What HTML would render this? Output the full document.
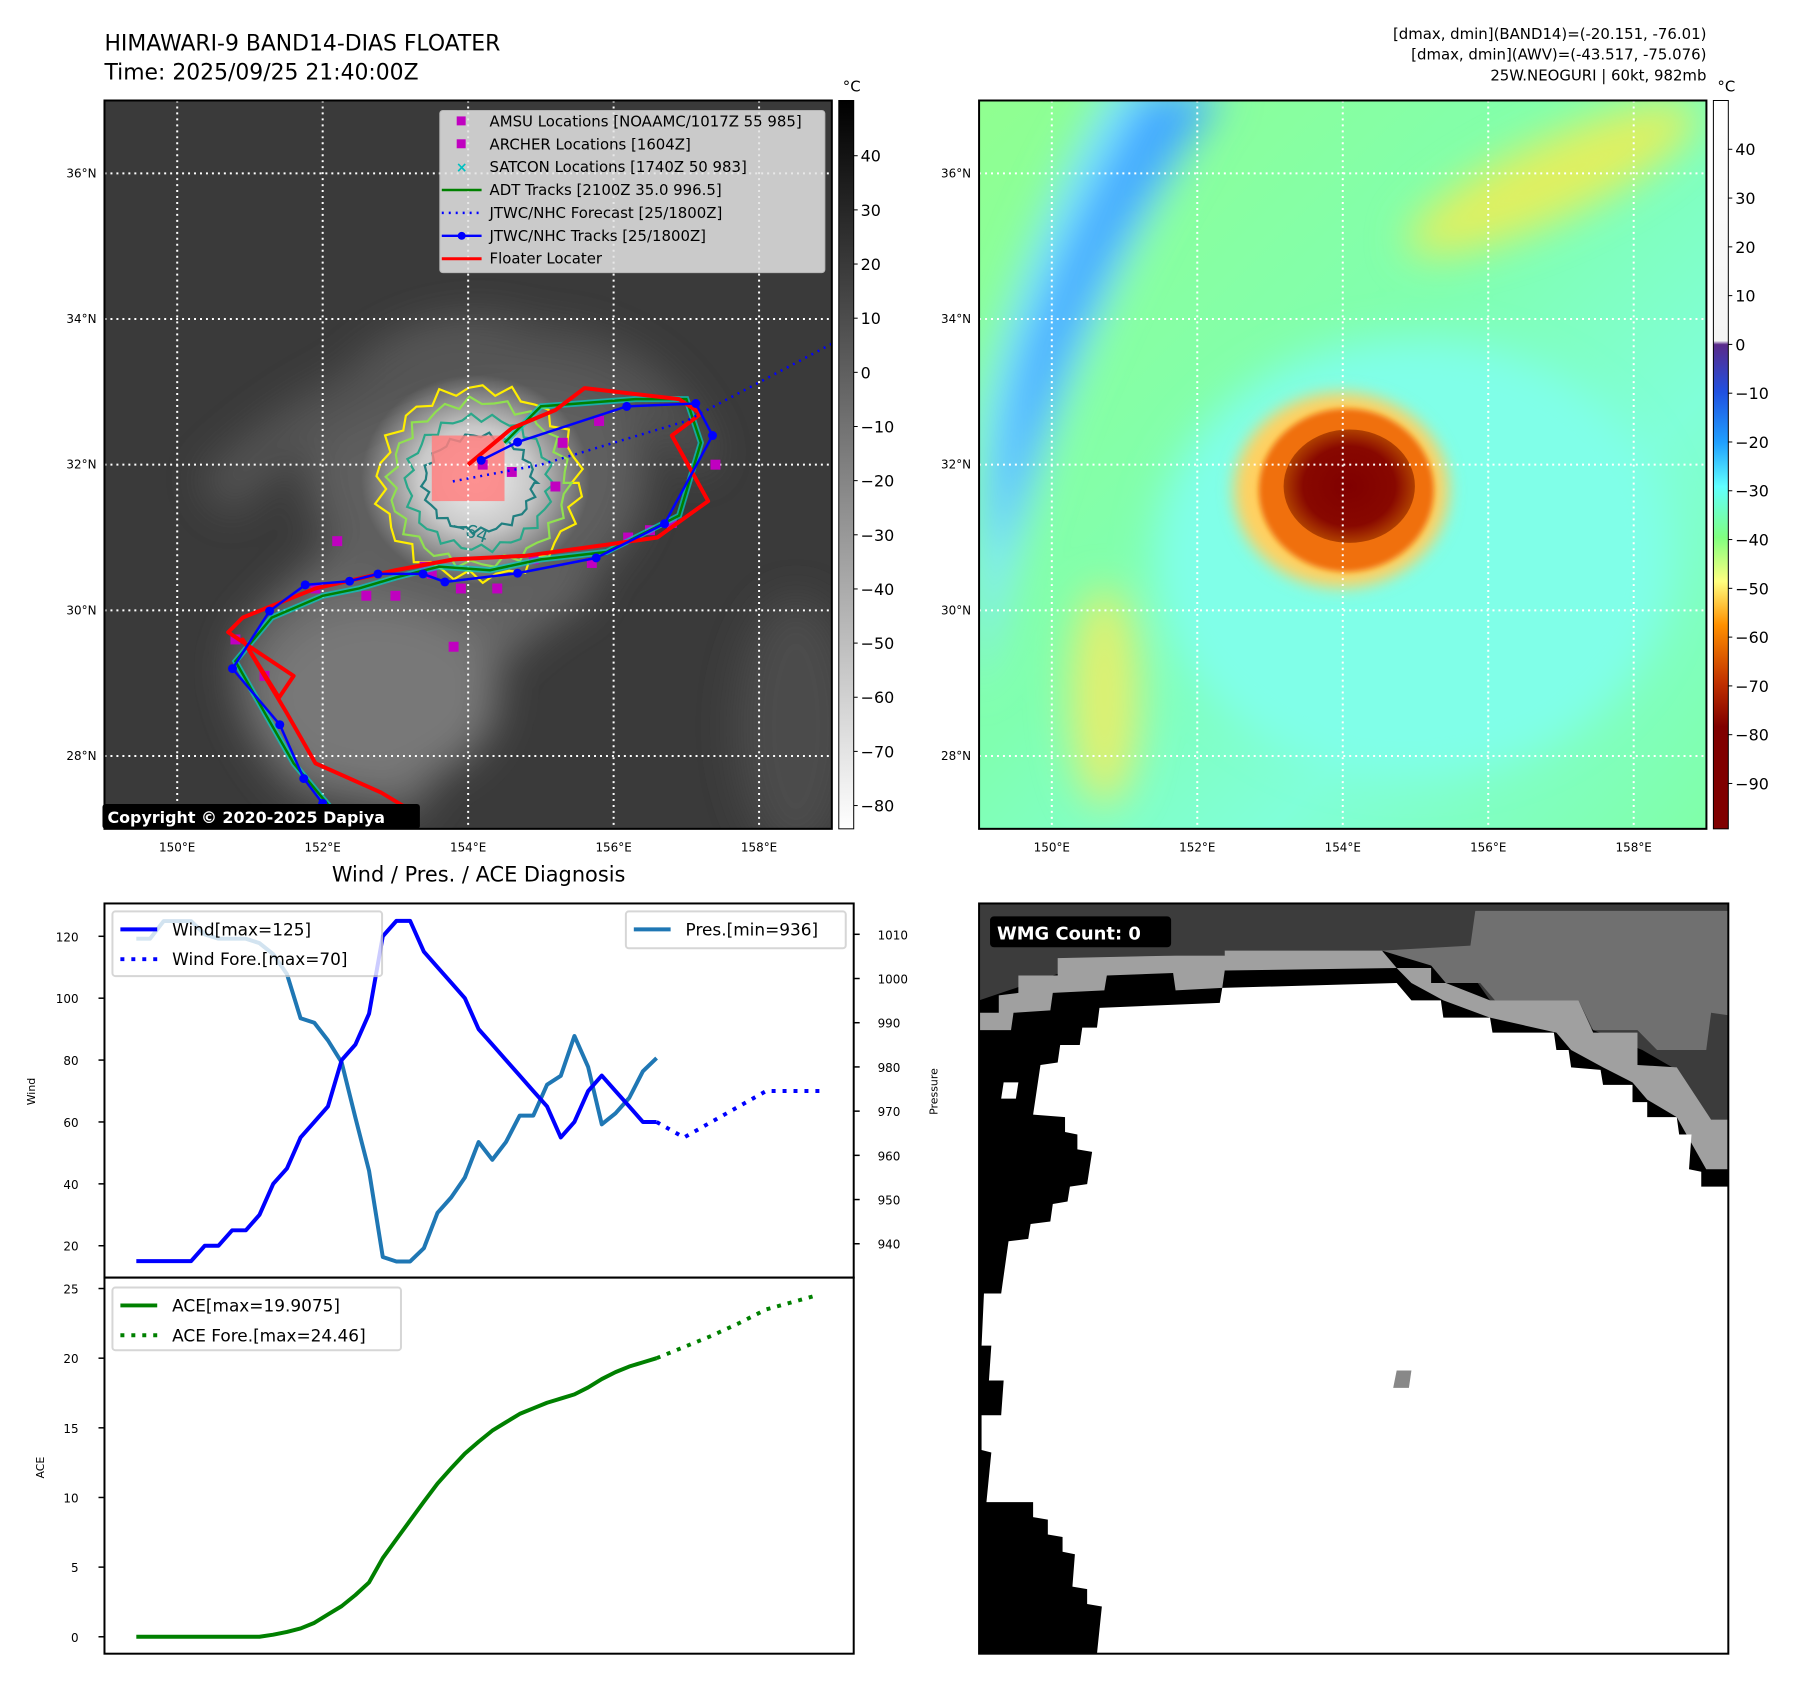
<!DOCTYPE html>
<html><head><meta charset="utf-8"><style>
html,body{margin:0;padding:0;background:#fff;}
svg{display:block;font-family:"DejaVu Sans","Liberation Sans",sans-serif;}
</style></head><body>
<svg id="fig" width="1797" height="1690" viewBox="0 0 1797 1690" xmlns="http://www.w3.org/2000/svg">
<defs>
<filter id="blur8" x="-50%" y="-50%" width="200%" height="200%"><feGaussianBlur stdDeviation="8"/></filter>
<filter id="blur20" x="-50%" y="-50%" width="200%" height="200%"><feGaussianBlur stdDeviation="20"/></filter>
<filter id="blur4" x="-50%" y="-50%" width="200%" height="200%"><feGaussianBlur stdDeviation="3"/></filter>
<clipPath id="clipL"><rect x="105" y="101" width="731" height="732"/></clipPath>
<clipPath id="clipR"><rect x="984" y="101" width="731" height="732"/></clipPath>
<clipPath id="clipW"><rect x="984" y="908" width="753" height="754"/></clipPath>
<linearGradient id="cbGray" x1="0" y1="0" x2="0" y2="1">
<stop offset="0" stop-color="#000"/><stop offset="1" stop-color="#fff"/></linearGradient>
<linearGradient id="cbColor" x1="0" y1="0" x2="0" y2="1">
<stop offset="0" stop-color="#ffffff"/><stop offset="0.33" stop-color="#f4f4f4"/>
<stop offset="0.335" stop-color="#5a2a8a"/><stop offset="0.40" stop-color="#2050e0"/>
<stop offset="0.47" stop-color="#20a0ff"/><stop offset="0.53" stop-color="#60ffff"/>
<stop offset="0.60" stop-color="#80ff80"/><stop offset="0.66" stop-color="#ffff80"/>
<stop offset="0.72" stop-color="#ff9000"/><stop offset="0.80" stop-color="#c03000"/>
<stop offset="0.86" stop-color="#800000"/><stop offset="1" stop-color="#800000"/></linearGradient>
<linearGradient id="bgR" x1="0" y1="0" x2="1" y2="1">
<stop offset="0" stop-color="#90ff90"/><stop offset="0.45" stop-color="#80ffb0"/>
<stop offset="0.7" stop-color="#80ffd8"/><stop offset="1" stop-color="#80ffa8"/></linearGradient>
<radialGradient id="eyeCore"><stop offset="0" stop-color="#800000"/><stop offset="0.7" stop-color="#880800"/><stop offset="1" stop-color="#b04000"/></radialGradient>
<radialGradient id="cloudW"><stop offset="0" stop-color="#f0f0f0"/><stop offset="0.5" stop-color="#c8c8c8"/><stop offset="1" stop-color="#c8c8c8" stop-opacity="0"/></radialGradient>
</defs>
<g id="root" transform="scale(0.995)">
<text x="105" y="51" font-size="22" fill="#000">HIMAWARI-9 BAND14-DIAS FLOATER</text>
<text x="105" y="80" font-size="22" fill="#000">Time: 2025/09/25 21:40:00Z</text>
<text x="1715" y="39" font-size="15" text-anchor="end">[dmax, dmin](BAND14)=(-20.151, -76.01)</text>
<text x="1715" y="60" font-size="15" text-anchor="end">[dmax, dmin](AWV)=(-43.517, -75.076)</text>
<text x="1715" y="81" font-size="15" text-anchor="end">25W.NEOGURI | 60kt, 982mb</text>

<g id="mapL"></g>
<g id="mapR"></g>
<g id="chart"></g>
<g id="wmg"></g>
</g>
</svg>
<script>
// ---------- data ----------
const windObs = [15,15,15,15,15,20,20,25,25,30,40,45,55,60,65,80,85,95,120,125,125,115,110,105,100,90,85,80,75,70,65,55,60,70,75,70,65,60,60];
const windForeIdx = [38,40,46,50];
const windFore = [60,55,70,70];
const presObs = [1009,1009,1013,1013,1013,1010,1009,1009,1009,1008,1005.5,1001,991,990,986,981,968.5,956.5,937,936,936,939,947,950.5,955,963,959,963,969,969,976,978,987,980,967,969.5,973,979,982];
const aceObs = [0,0,0,0,0,0,0,0,0,0,0.15,0.35,0.6,1.0,1.6,2.2,3.0,3.9,5.65,7.0,8.35,9.7,11.0,12.1,13.15,14.0,14.8,15.4,16.0,16.4,16.8,17.1,17.4,17.9,18.5,19.0,19.4,19.7,20.0];
const aceForeIdx = [38,40,42,44,46,49.5];
const aceFore = [20.0,20.8,21.6,22.5,23.5,24.46];
const windTicks = [20,40,60,80,100,120];
const presTicks = [940,950,960,970,980,990,1000,1010];
const aceTicks = [0,5,10,15,20,25];
const lonTicks = [150,152,154,156,158];
const latTicks = [28,30,32,34,36];
const cbGrayTicks = [40,30,20,10,0,-10,-20,-30,-40,-50,-60,-70,-80];
const cbColorTicks = [40,30,20,10,0,-10,-20,-30,-40,-50,-60,-70,-80,-90];
const jtwcLon = [152.0,151.74,151.41,150.76,151.27,151.76,152.37,152.76,153.38,153.68,154.68,155.76,156.70,157.36,157.13,156.18,154.68,154.18];
const jtwcLat = [27.35,27.69,28.43,29.20,29.99,30.35,30.40,30.50,30.50,30.39,30.51,30.72,31.19,32.40,32.84,32.80,32.31,32.06];
const foreLon = [153.79,155.0,157.0,159.0];
const foreLat = [31.77,32.0,32.6,33.66];
const adtLon = [152.1,151.6,151.2,150.8,151.3,152.0,152.5,153.0,153.6,154.3,155.0,155.9,156.9,157.2,157.0,156.3,155.0,154.5];
const adtLat = [27.3,27.9,28.6,29.3,29.9,30.2,30.3,30.45,30.6,30.55,30.7,30.8,31.3,32.3,32.9,32.9,32.8,32.3];
const floaterLon = [153.3,152.8,151.9,151.5,150.9,151.4,151.6,150.7,150.9,151.9,153.0,153.8,154.8,155.9,156.6,157.3,156.8,157.2,156.9,155.6,155.2,154.6,154.0];
const floaterLat = [27.2,27.5,27.9,28.6,29.6,28.8,29.1,29.7,29.9,30.3,30.55,30.7,30.75,30.9,31.0,31.5,32.4,32.7,32.9,33.05,32.75,32.5,32.0];
const amsuLon = [151.2,151.9,152.6,153.0,153.5,153.9,154.4,154.6,155.3,155.8,156.2,156.5,156.8,157.4,154.2,155.2,150.8,153.8,152.2,153.4,154.9,155.7];
const amsuLat = [29.1,30.3,30.2,30.2,30.5,30.3,30.3,31.9,32.3,32.6,31.0,31.1,31.2,32.0,32.0,31.7,29.6,29.5,30.95,30.6,30.7,30.65];

const NS = "http://www.w3.org/2000/svg";
function mk(parent, tag, attrs, text){
  const e = document.createElementNS(NS, tag);
  for (const k in attrs) e.setAttribute(k, attrs[k]);
  if (text !== undefined) e.textContent = text;
  parent.appendChild(e);
  return e;
}
function mapX(x0, lon){ return x0 + (lon - 149) * 73.1; }
function mapY(lat){ return 101 + (37 - lat) * 73.2; }
function cx(i){ return 137 + i * 13.76; }
function yw(v){ return 941 + (120 - v) * 3.11; }
function yp(p){ return 939 + (1010 - p) * 4.443; }
function ya(a){ return 1645 - a * 14; }

// ---------- Left IR map ----------
const L = document.getElementById('mapL');
const Lg = mk(L,'g',{'clip-path':'url(#clipL)'});
let e;
e = mk(Lg,'rect',{x:105,y:101,width:731,height:732,fill:'#3a3a3a'});


const cloudG = mk(Lg,'g',{filter:'url(#blur20)'});
e = mk(cloudG,'path',{d:'M560 420 C 430 480 300 560 240 640 C 220 700 260 760 300 800 L 420 820 C 460 700 520 640 600 600 C 560 560 560 480 560 420 Z',fill:'#686868'});


e = mk(cloudG,'ellipse',{cx:480,cy:470,rx:170,ry:150,fill:'#5e5e5e'});


e = mk(cloudG,'path',{d:'M200 480 C 300 380 420 330 560 330 C 650 340 700 400 720 460 L 700 480 C 660 420 600 380 520 380 C 400 390 300 450 230 520 Z',fill:'#525252'});


e = mk(cloudG,'ellipse',{cx:380,cy:700,rx:120,ry:90,fill:'#787878'});


e = mk(cloudG,'ellipse',{cx:800,cy:730,rx:60,ry:130,fill:'#4c4c4c'});


e = mk(Lg,'ellipse',{cx:mapX(105,154.1),cy:mapY(31.8),rx:115,ry:105,fill:'url(#cloudW)'});


const contours = [['#ffee00',100,95],['#90e050',88,82],['#2aa88a',72,66],['#207f80',55,48]];
contours.forEach((c,k)=>{
  const ccx = mapX(105,154.15), ccy = mapY(31.75);
  let d='';
  for(let a=0;a<=360;a+=8){
    const r = 1 + 0.07*Math.sin(a*0.31+k);
    const px = ccx + c[1]*r*Math.cos(a*Math.PI/180), py = ccy + c[2]*r*Math.sin(a*Math.PI/180);
    d += (a===0?'M':'L')+px.toFixed(1)+' '+py.toFixed(1);
  }
  e = mk(Lg,'path',{d:d+'Z',fill:'none',stroke:c[0],'stroke-width':2.2});
  
  
});
e = mk(Lg,'text',{x:mapX(105,153.75),y:mapY(31.1),'font-size':18,fill:'#207f80',transform:'rotate(20 '+mapX(105,153.75)+' '+mapY(31.1)+')'},'−64');


e = mk(Lg,'rect',{x:mapX(105,153.5),y:mapY(32.4),width:73.1*1.0,height:73.2*0.9,fill:'#ff8080',opacity:0.85});


lonTicks.forEach(lon=>{
  e = mk(Lg,'line',{x1:mapX(105,lon),x2:mapX(105,lon),y1:101,y2:833,stroke:'#fff','stroke-width':2,'stroke-dasharray':'2,4'});
  
  
});
latTicks.forEach(lat=>{
  e = mk(Lg,'line',{x1:105,x2:836,y1:mapY(lat),y2:mapY(lat),stroke:'#fff','stroke-width':2,'stroke-dasharray':'2,4'});
  
  
});
function pts(lons,lats,x0){ return lons.map((v,i)=>mapX(x0,v).toFixed(1)+','+mapY(lats[i]).toFixed(1)).join(' '); }
amsuLon.forEach((lon,i)=>{
  e = mk(Lg,'rect',{x:mapX(105,lon)-5,y:mapY(amsuLat[i])-5,width:10,height:10,fill:'#c000c0'});
  
  
});
e = mk(Lg,'polyline',{points:pts(adtLon,adtLat,105),fill:'none',stroke:'#00d0c8','stroke-width':6,opacity:0.7});


e = mk(Lg,'polyline',{points:pts(adtLon,adtLat,105),fill:'none',stroke:'#008000','stroke-width':2.5});


e = mk(Lg,'polyline',{points:pts(floaterLon,floaterLat,105),fill:'none',stroke:'#ff0000','stroke-width':4,'stroke-linejoin':'round'});


e = mk(Lg,'polyline',{points:pts(jtwcLon,jtwcLat,105),fill:'none',stroke:'#0000ff','stroke-width':2.5});


jtwcLon.forEach((lon,i)=>{
  e = mk(Lg,'circle',{cx:mapX(105,lon),cy:mapY(jtwcLat[i]),r:4.5,fill:'#0000ff'});
  
  
});
e = mk(Lg,'polyline',{points:pts(foreLon,foreLat,105),fill:'none',stroke:'#0000ff','stroke-width':2.5,'stroke-dasharray':'2,5'});


const lg = mk(L,'g',{});


mk(lg,'rect',{x:442,y:111,width:387,height:163,fill:'#e4e4e4',opacity:0.85,stroke:'#ccc',rx:3});
const legRows = ['AMSU Locations [NOAAMC/1017Z 55 985]','ARCHER Locations [1604Z]','SATCON Locations [1740Z 50 983]','ADT Tracks [2100Z 35.0 996.5]','JTWC/NHC Forecast [25/1800Z]','JTWC/NHC Tracks [25/1800Z]','Floater Locater'];
legRows.forEach((t,i)=>{
  const y = 122 + i*23;
  if(i<2){ mk(lg,'rect',{x:459,y:y-5,width:9,height:9,fill:'#c000c0'}); }
  else if(i===2){ mk(lg,'text',{x:464,y:y+5,'font-size':14,'text-anchor':'middle',fill:'#00c0c0','font-weight':'bold'},'×'); }
  else if(i===3){ mk(lg,'line',{x1:444,x2:484,y1:y,y2:y,stroke:'#008000','stroke-width':2.5}); }
  else if(i===4){ mk(lg,'line',{x1:444,x2:484,y1:y,y2:y,stroke:'#0000ff','stroke-width':2.5,'stroke-dasharray':'2,5'}); }
  else if(i===5){ mk(lg,'line',{x1:444,x2:484,y1:y,y2:y,stroke:'#0000ff','stroke-width':2.5}); mk(lg,'circle',{cx:464,cy:y,r:4,fill:'#0000ff'}); }
  else { mk(lg,'line',{x1:444,x2:484,y1:y,y2:y,stroke:'#ff0000','stroke-width':3}); }
  e = mk(lg,'text',{x:492,y:y+5,'font-size':15,fill:'#000'},t);
  
  
});
e = mk(L,'rect',{x:103,y:808,width:319,height:25,fill:'#000',rx:3});


e = mk(L,'text',{x:108,y:827,'font-size':16,'font-weight':'bold',fill:'#fff'},'Copyright © 2020-2025 Dapiya');


e = mk(L,'rect',{x:105,y:101,width:731,height:732,fill:'none',stroke:'#000','stroke-width':2});



function mapTicks(parent, x0){
  lonTicks.forEach(lon=>{
    e = mk(parent,'text',{x:mapX(x0,lon),y:856,'font-size':12,'text-anchor':'middle'},lon+'°E');
    
    
  });
  latTicks.forEach(lat=>{
    e = mk(parent,'text',{x:x0-8,y:mapY(lat)+4,'font-size':12,'text-anchor':'end'},lat+'°N');
    
    
  });
}
mapTicks(L,105);
function cbar(parent, x, grad, vTop, vBot, ticks, name){
  e = mk(parent,'rect',{x:x,y:101,width:15,height:732,fill:grad,stroke:'#000','stroke-width':1});
  
  
  ticks.forEach(v=>{
    const y = 101 + (vTop - v)/(vTop - vBot)*732;
    mk(parent,'line',{x1:x+15,x2:x+19,y1:y,y2:y,stroke:'#000'});
    e = mk(parent,'text',{x:x+22,y:y+6,'font-size':16},(v<0?'−'+(-v):''+v));
    
    
  });
  e = mk(parent,'text',{x:x+4,y:92,'font-size':15},'°C');
  
  
}
cbar(L,843,'url(#cbGray)',50.2,-84.3,cbGrayTicks,'ir-colorbar');

// ---------- Right AWV map ----------
const R = document.getElementById('mapR');
const Rg = mk(R,'g',{'clip-path':'url(#clipR)'});
e = mk(Rg,'rect',{x:984,y:101,width:731,height:732,fill:'url(#bgR)'});


const rb = mk(Rg,'g',{filter:'url(#blur20)'});
e = mk(rb,'path',{d:'M1120 80 C 1060 180 1010 300 984 420 L 984 700 C 1010 600 1040 470 1085 370 C 1130 260 1180 170 1230 90 Z',fill:'#80e8ff'});


e = mk(rb,'path',{d:'M1150 90 C 1100 180 1060 260 1030 350 C 1010 420 1000 500 1000 560 C 1030 480 1060 380 1100 300 C 1130 230 1180 160 1230 95 Z',fill:'#40a8ff'});


e = mk(rb,'ellipse',{cx:1420,cy:560,rx:260,ry:220,fill:'#80ffe8'});


e = mk(rb,'ellipse',{cx:1560,cy:180,rx:160,ry:40,fill:'#e0f060',transform:'rotate(-25 1560 180)'});


e = mk(rb,'ellipse',{cx:1110,cy:700,rx:35,ry:110,fill:'#e0f070'});


const ecx = mapX(984,153.98), ecy = mapY(31.65);
e = mk(Rg,'ellipse',{cx:ecx,cy:ecy,rx:108,ry:98,fill:'#ffd060',filter:'url(#blur8)'});


e = mk(Rg,'ellipse',{cx:ecx+5,cy:ecy,rx:88,ry:82,fill:'#f07010',filter:'url(#blur4)'});


e = mk(Rg,'ellipse',{cx:ecx+8,cy:ecy-4,rx:66,ry:57,fill:'url(#eyeCore)'});


lonTicks.forEach(lon=>{
  e = mk(Rg,'line',{x1:mapX(984,lon),x2:mapX(984,lon),y1:101,y2:833,stroke:'#fff','stroke-width':2,'stroke-dasharray':'2,4'});
  
  
});
latTicks.forEach(lat=>{
  e = mk(Rg,'line',{x1:984,x2:1715,y1:mapY(lat),y2:mapY(lat),stroke:'#fff','stroke-width':2,'stroke-dasharray':'2,4'});
  
  
});
e = mk(R,'rect',{x:984,y:101,width:731,height:732,fill:'none',stroke:'#000','stroke-width':2});


mapTicks(R,984);
cbar(R,1722,'url(#cbColor)',50,-99.3,cbColorTicks,'awv-colorbar');

// ---------- Chart ----------
const C = document.getElementById('chart');
e = mk(C,'text',{x:481,y:886,'font-size':21,'text-anchor':'middle'},'Wind / Pres. / ACE Diagnosis');


function poly(parent, xs, ys, color, dash){
  const p = xs.map((x,i)=>x.toFixed(1)+','+ys[i].toFixed(1)).join(' ');
  const a = {points:p,fill:'none',stroke:color,'stroke-width':4,'stroke-linejoin':'round'};
  if(dash) a['stroke-dasharray']=dash;
  return mk(parent,'polyline',a);
}
e = poly(C, presObs.map((v,i)=>cx(i)), presObs.map(yp), '#1f77b4', null);


e = poly(C, windObs.map((v,i)=>cx(i)), windObs.map(yw), '#0000ff', null);


e = poly(C, windForeIdx.map(cx), windFore.map(yw), '#0000ff', '4,7');


e = poly(C, aceObs.map((v,i)=>cx(i)), aceObs.map(ya), '#008000', null);


e = poly(C, aceForeIdx.map(cx), aceFore.map(ya), '#008000', '4,7');


e = mk(C,'rect',{x:105,y:908,width:753,height:376,fill:'none',stroke:'#000','stroke-width':2});


e = mk(C,'rect',{x:105,y:1284,width:753,height:378,fill:'none',stroke:'#000','stroke-width':2});


windTicks.forEach(v=>{
  mk(C,'line',{x1:99,x2:105,y1:yw(v),y2:yw(v),stroke:'#000','stroke-width':1.5});
  e = mk(C,'text',{x:79,y:yw(v)+5,'font-size':12,'text-anchor':'end'},''+v);
  
  
});
presTicks.forEach(v=>{
  mk(C,'line',{x1:858,x2:864,y1:yp(v),y2:yp(v),stroke:'#000','stroke-width':1.5});
  e = mk(C,'text',{x:882,y:yp(v)+5,'font-size':12},''+v);
  
  
});
aceTicks.forEach(v=>{
  mk(C,'line',{x1:99,x2:105,y1:ya(v),y2:ya(v),stroke:'#000','stroke-width':1.5});
  e = mk(C,'text',{x:79,y:ya(v)+5,'font-size':12,'text-anchor':'end'},''+v);
  
  
});
e = mk(C,'text',{x:35,y:1097,'font-size':11,'text-anchor':'middle',transform:'rotate(-90 35 1097)'},'Wind');


e = mk(C,'text',{x:942,y:1097,'font-size':11,'text-anchor':'middle',transform:'rotate(-90 942 1097)'},'Pressure');


e = mk(C,'text',{x:44,y:1475,'font-size':11,'text-anchor':'middle',transform:'rotate(-90 44 1475)'},'ACE');


function legendBox(x,y,w,h,rows){
  const g = mk(C,'g',{});
  mk(g,'rect',{x:x,y:y,width:w,height:h,fill:'#fff',opacity:0.8,stroke:'#ccc','stroke-width':2,rx:3});
  rows.forEach((r,i)=>{
    const yy = y+18+i*30;
    const a = {x1:x+8,x2:x+45,y1:yy,y2:yy,stroke:r[1],'stroke-width':4};
    if(r[2]) a['stroke-dasharray']='4,7';
    mk(g,'line',a);
    mk(g,'text',{x:x+60,y:yy+6,'font-size':17},r[0]);
  });
  return g;
}
e = legendBox(113,916,271,65,[['Wind[max=125]','#0000ff',0],['Wind Fore.[max=70]','#0000ff',1]]);


e = legendBox(629,916,221,37,[['Pres.[min=936]','#1f77b4',0]]);


e = legendBox(113,1294,290,63,[['ACE[max=19.9075]','#008000',0],['ACE Fore.[max=24.46]','#008000',1]]);



// ---------- WMG panel ----------
const W = document.getElementById('wmg');
const Wg = mk(W,'g',{'clip-path':'url(#clipW)'});
function wp(arr){ return arr.map(p=>(984+p[0]/1525*753).toFixed(1)+','+(908+(p[1]-5)/1510*754).toFixed(1)).join(' '); }
e = mk(Wg,'rect',{x:984,y:908,width:753,height:754,fill:'#000'});


e = mk(Wg,'polygon',{points:wp([[0,5],[1525,5],[1525,440],[1490,440],[1460,400],[1420,340],[1350,300],[1250,260],[1220,230],[1040,200],[1015,165],[920,130],[850,100],[500,110],[400,110],[260,115],[150,150],[60,180],[0,200]]),fill:'#3c3c3c'});


e = mk(Wg,'polygon',{points:wp([[1010,20],[1525,20],[1525,230],[1490,225],[1480,300],[1380,300],[1340,260],[1250,260],[1220,200],[1050,200],[1020,165],[950,165],[920,130],[820,100],[1000,90]]),fill:'#707070'});


e = mk(Wg,'polygon',{points:wp([[0,225],[40,225],[40,190],[80,185],[80,150],[160,150],[160,115],[400,110],[500,110],[500,100],[820,100],[850,135],[920,135],[920,165],[950,165],[1040,200],[1220,200],[1250,265],[1340,265],[1340,330],[1420,335],[1490,440],[1525,440],[1525,540],[1480,540],[1440,470],[1420,435],[1360,400],[1330,365],[1270,335],[1205,300],[1175,265],[1040,235],[945,200],[880,165],[850,135],[500,140],[495,175],[400,180],[395,145],[260,150],[255,180],[150,185],[145,220],[70,225],[65,260],[0,260]]),fill:'#a0a0a0'});


e = mk(Wg,'polygon',{points:wp([[245,215],[490,205],[495,175],[850,165],[880,200],[940,200],[945,235],[1040,235],[1045,265],[1170,265],[1175,300],[1200,300],[1205,335],[1265,340],[1270,370],[1330,370],[1330,405],[1360,405],[1360,435],[1420,435],[1425,470],[1450,470],[1445,540],[1470,545],[1470,575],[1525,575],[1525,1515],[240,1515],[250,1420],[220,1415],[220,1385],[190,1380],[195,1315],[170,1310],[170,1280],[140,1275],[140,1245],[110,1240],[110,1210],[15,1210],[25,1110],[5,1105],[5,1035],[45,1035],[50,965],[20,965],[25,895],[5,895],[10,790],[45,790],[60,685],[100,680],[105,650],[145,645],[150,610],[180,605],[185,575],[220,570],[230,505],[200,500],[200,470],[175,465],[175,435],[110,430],[125,330],[160,325],[165,290],[205,290],[210,255],[240,255]]),fill:'#fff'});


e = mk(Wg,'polygon',{points:wp([[50,365],[80,365],[75,398],[45,398]]),fill:'#fff'});


e = mk(Wg,'polygon',{points:wp([[850,945],[880,945],[875,980],[843,980]]),fill:'#888'});


e = mk(W,'rect',{x:984,y:908,width:753,height:754,fill:'none',stroke:'#000','stroke-width':2});


e = mk(W,'rect',{x:995,y:921,width:182,height:31,fill:'#000',rx:4});


e = mk(W,'text',{x:1002,y:944,'font-size':18,'font-weight':'bold',fill:'#fff'},'WMG Count: 0');


</script>
</body></html>
